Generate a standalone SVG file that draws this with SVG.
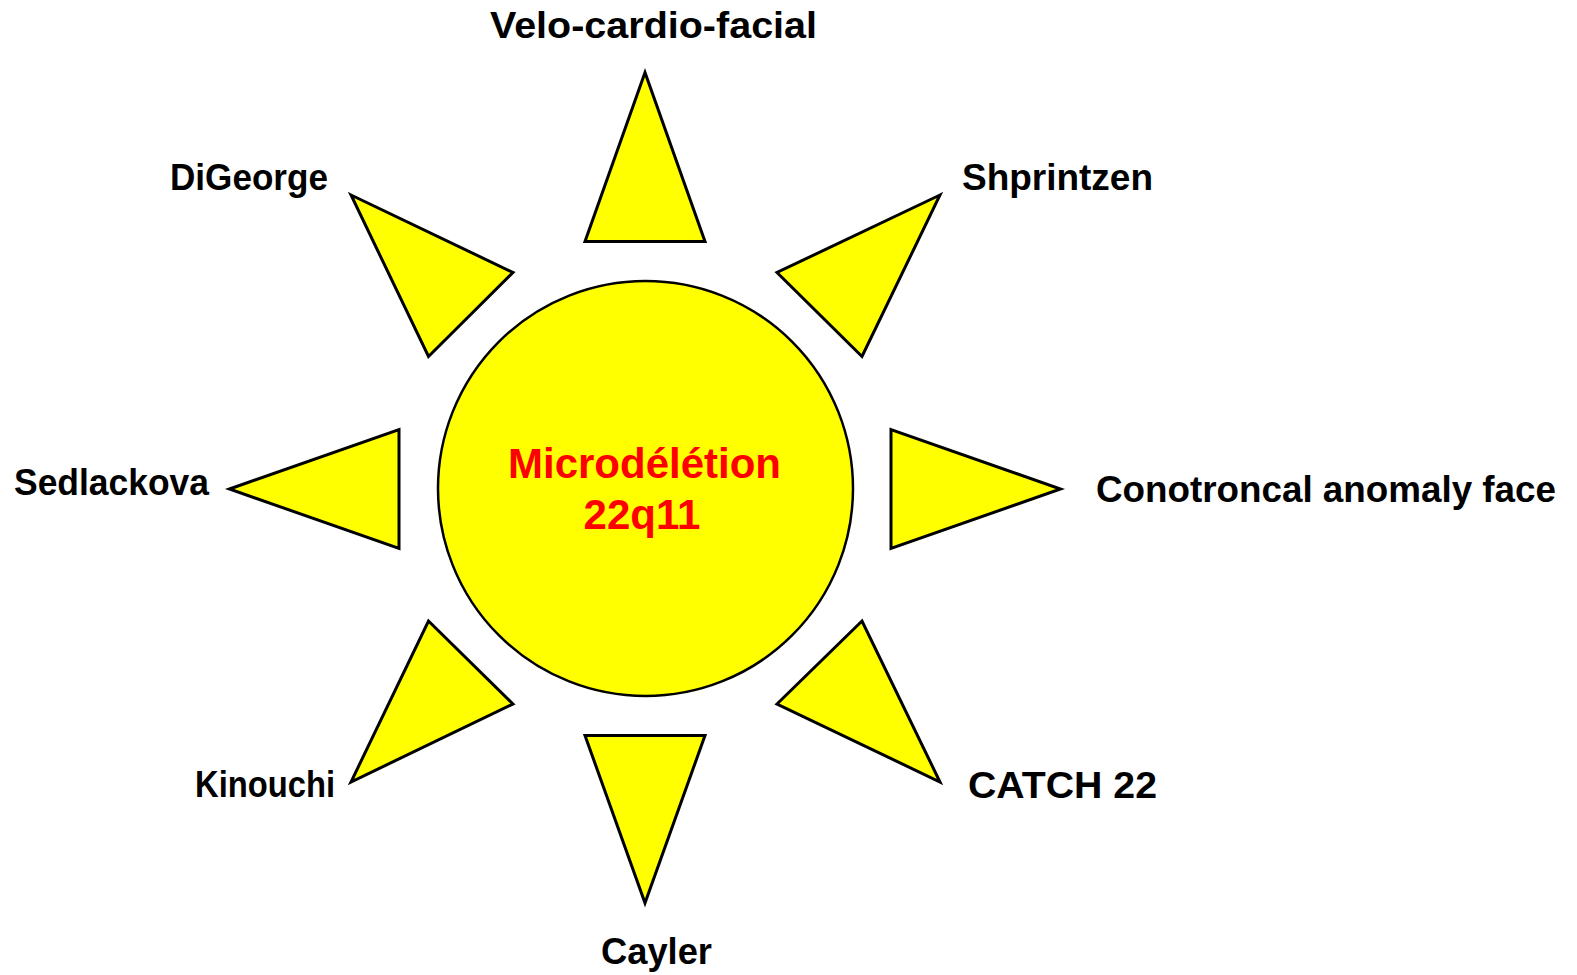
<svg xmlns="http://www.w3.org/2000/svg" width="1577" height="975" viewBox="0 0 1577 975">
<style>
.ray{fill:#ffff00;stroke:#000;stroke-width:3;stroke-linejoin:miter}
.sun{fill:#ffff00;stroke:#000;stroke-width:2.5}
.lbl{font-family:"Liberation Sans",Arial,sans-serif;font-weight:bold;font-size:36px;fill:#000}
.ctr{font-family:"Liberation Sans",Arial,sans-serif;font-weight:bold;font-size:42px;fill:#ff0000;text-anchor:middle}
</style>
<rect width="1577" height="975" fill="#fff"/>
<g id="connectors"/>
<g id="center">
<circle class="sun" cx="645.5" cy="488.5" r="207.5"/>
<text class="ctr" x="644.5" y="478">Microdélétion</text>
<text class="ctr" x="642" y="529">22q11</text>
</g>
<g id="ray-top"><polygon class="ray" points="645,72.5 585,241.5 705,241.5"/></g>
<g id="ray-bottom"><polygon class="ray" points="585,735.5 705,735.5 645,903"/></g>
<g id="ray-left"><polygon class="ray" points="229.5,489 399,429.5 399,548.5"/></g>
<g id="ray-right"><polygon class="ray" points="891,429.5 891,548.5 1060.5,489"/></g>
<g id="ray-ul"><polygon class="ray" points="351,195 513,272.5 428.5,356.5"/></g>
<g id="ray-ur"><polygon class="ray" points="940,195 777,272.5 862,356.5"/></g>
<g id="ray-ll"><polygon class="ray" points="428.5,621 513,704 351,782"/></g>
<g id="ray-lr"><polygon class="ray" points="862,621 777,704 940,782"/></g>
<g id="label-velo"><text class="lbl" x="490" y="38" textLength="327" lengthAdjust="spacingAndGlyphs">Velo-cardio-facial</text></g>
<g id="label-digeorge"><text class="lbl" x="170" y="190" textLength="158" lengthAdjust="spacingAndGlyphs">DiGeorge</text></g>
<g id="label-shprintzen"><text class="lbl" x="962" y="190" textLength="191" lengthAdjust="spacingAndGlyphs">Shprintzen</text></g>
<g id="label-sedlackova"><text class="lbl" x="14" y="495" textLength="195" lengthAdjust="spacingAndGlyphs">Sedlackova</text></g>
<g id="label-conotroncal"><text class="lbl" x="1096" y="502" textLength="460" lengthAdjust="spacingAndGlyphs">Conotroncal anomaly face</text></g>
<g id="label-kinouchi"><text class="lbl" x="195" y="797" textLength="140" lengthAdjust="spacingAndGlyphs">Kinouchi</text></g>
<g id="label-catch"><text class="lbl" x="968" y="798" textLength="189" lengthAdjust="spacingAndGlyphs">CATCH 22</text></g>
<g id="label-cayler"><text class="lbl" x="601" y="964" textLength="111" lengthAdjust="spacingAndGlyphs">Cayler</text></g>
</svg>
